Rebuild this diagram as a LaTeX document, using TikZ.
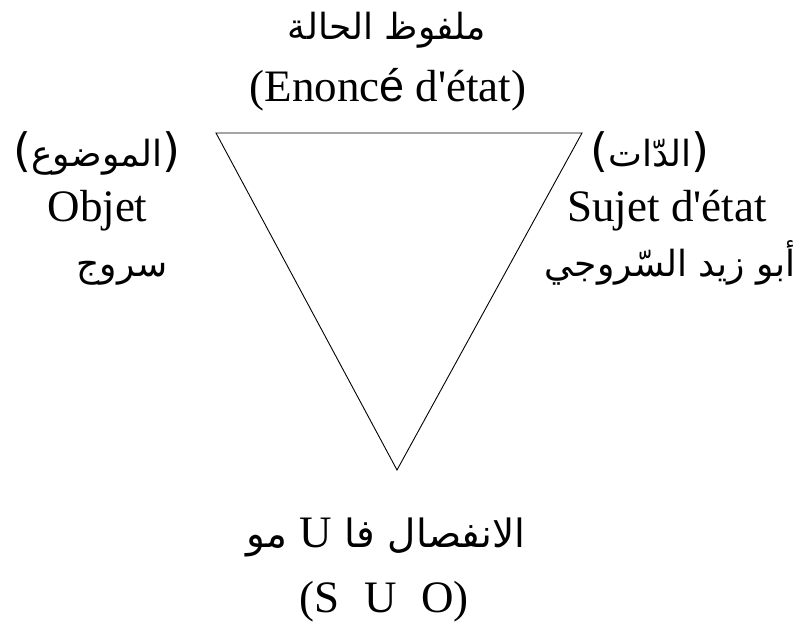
\documentclass[tikz,border=0pt]{standalone}
\usepackage{fontspec}
\setmainfont{Liberation Serif}[Ligatures=TeXOff]
\newfontfamily\arabicfont[Script=Arabic]{DejaVu Sans}
\newfontfamily\parfont{DejaVu Sans}
\newfontfamily\sansfont{Liberation Sans}
\TeXXeTstate=1
\newcommand{\bigpar}[1]{{\parfont\fontsize{46}{50}\selectfont #1}}
\begin{document}
\begin{tikzpicture}[x=1pt,y=-1pt,
  lat/.style={inner sep=0pt,anchor=base,font=\fontsize{45}{50}\selectfont},
  arb/.style={inner sep=0pt,anchor=base,font=\fontsize{36}{40}\arabicfont},
  edge/.style={line width=0.9pt,line join=miter}]
\useasboundingbox (0,0) rectangle (809,623);
\coordinate (tl) at (216,133);
\coordinate (tr) at (582,133);
\coordinate (bt) at (397,470);
\draw[edge] (tl) -- (tr) -- (bt) -- cycle;
% top
\node[arb] (top1) at (387,40) {\beginR ملفوظ الحالة\endR};
\node[lat] (top2) at (388,102) {(Enonc{\sansfont é} d'état)};
% left
\node[arb] (l1) at (97,167) {\bigpar{(}\beginR الموضوع\endR\bigpar{)}};
\node[lat] (l2) at (97.5,222) {Objet};
\node[arb] (l3) at (122,276) {\beginR سروج\endR};
% right
\node[arb] (r1) at (650,167) {\bigpar{(}\beginR الدّات\endR\bigpar{)}};
\node[lat] (r2) at (667,222) {Sujet d'état};
\node[arb] (r3) at (670,276) {\beginR أبو زيد السّروجي\endR};
% bottom
\node[arb,font=\fontsize{39}{42}\arabicfont] (b1) at (386,547) {\beginR الانفصال فا {\rmfamily\fontsize{45}{50}\selectfont U} مو\endR};
\node[lat] (b2) at (384,612) {(S\hspace{0.55em}U\hspace{0.55em}O)};
\end{tikzpicture}
\end{document}
